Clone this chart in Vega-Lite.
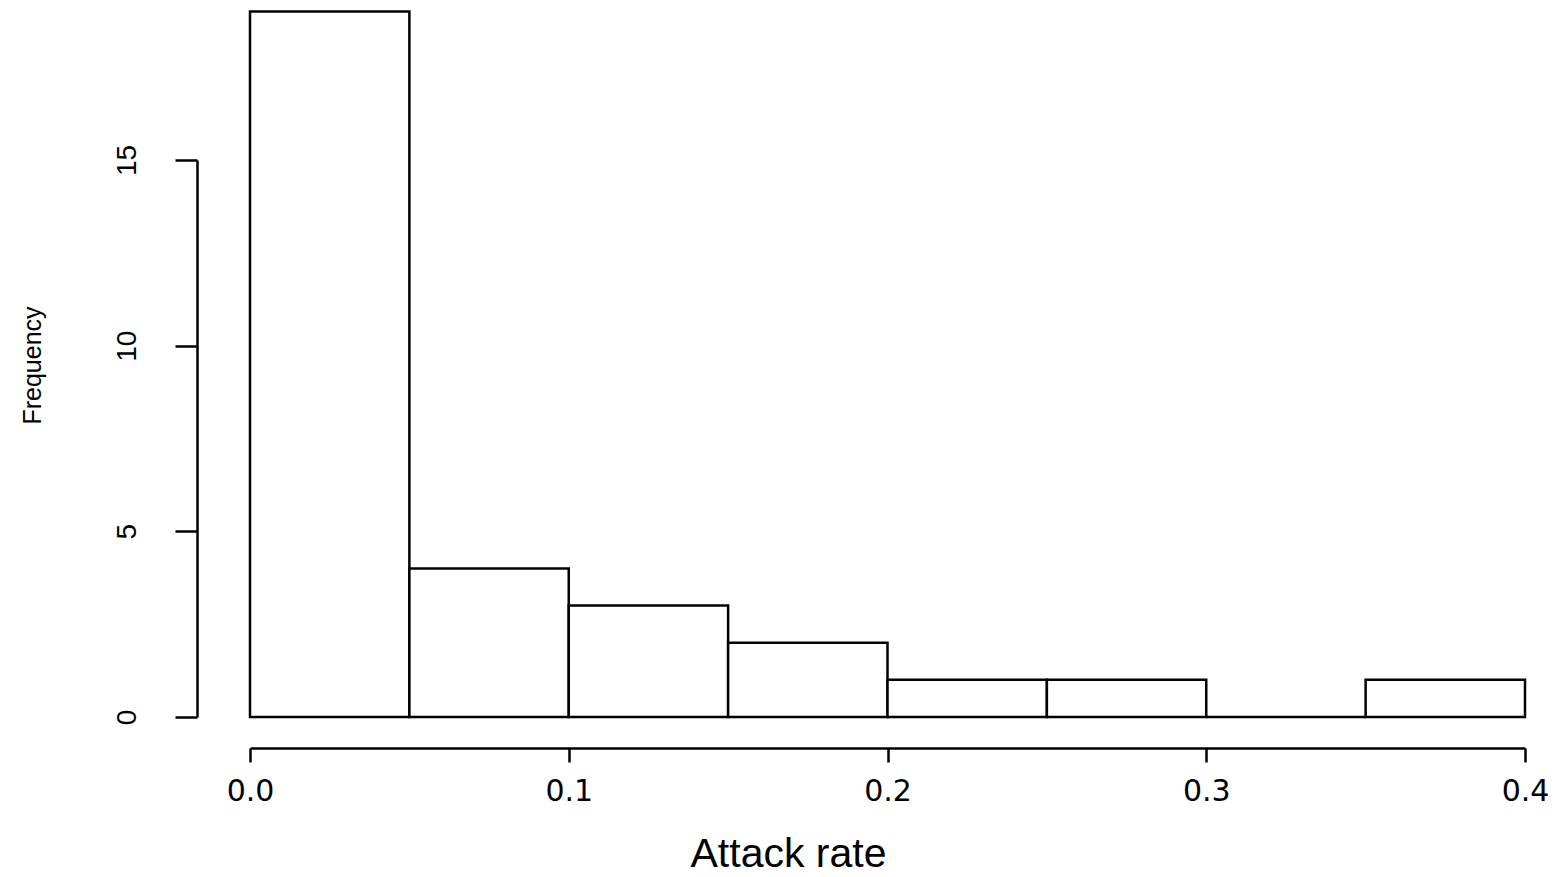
{
  "$schema": "https://vega.github.io/schema/vega-lite/v6.json",
  "autosize": {"type": "none"},
  "padding": {"left": 250, "top": 160, "right": 35, "bottom": 160},
  "width": 1275,
  "height": 557,
  "background": "white",
  "config": {"view": {"stroke": null}},
  "data": {
    "values": [
      {"bin_start": 0.0, "bin_end": 0.05, "count": 19},
      {"bin_start": 0.05, "bin_end": 0.1, "count": 4},
      {"bin_start": 0.1, "bin_end": 0.15, "count": 3},
      {"bin_start": 0.15, "bin_end": 0.2, "count": 2},
      {"bin_start": 0.2, "bin_end": 0.25, "count": 1},
      {"bin_start": 0.25, "bin_end": 0.3, "count": 1},
      {"bin_start": 0.3, "bin_end": 0.35, "count": 0},
      {"bin_start": 0.35, "bin_end": 0.4, "count": 1}
    ]
  },
  "mark": {"type": "bar", "fill": "white", "stroke": "black", "strokeWidth": 2.5, "clip": false},
  "encoding": {
    "x": {
      "field": "bin_start",
      "type": "quantitative",
      "scale": {"domain": [0, 0.4], "nice": false, "zero": false},
      "axis": {
        "values": [0, 0.1, 0.2, 0.3, 0.4],
        "format": ".1f",
        "grid": false,
        "offset": 31,
        "tickSize": 14,
        "tickWidth": 2.5,
        "tickColor": "black",
        "domainColor": "black",
        "domainWidth": 2.5,
        "labelFont": "DejaVu Sans",
        "labelFontSize": 30,
        "labelColor": "black",
        "labelPadding": 14,
        "labelFlush": false,
        "title": "Attack rate",
        "titleFont": "Liberation Sans",
        "titleFontSize": 41,
        "titleFontWeight": "normal",
        "titleColor": "black",
        "titleX": 538,
        "titleY": 106,
        "titleAlign": "center",
        "titleBaseline": "middle"
      }
    },
    "x2": {"field": "bin_end"},
    "y": {
      "field": "count",
      "type": "quantitative",
      "scale": {"domain": [0, 15], "nice": false},
      "axis": {
        "values": [0, 5, 10, 15],
        "grid": false,
        "offset": 53,
        "tickSize": 22,
        "tickWidth": 2.5,
        "tickColor": "black",
        "domainColor": "black",
        "domainWidth": 2.5,
        "labelAngle": -90,
        "labelAlign": "center",
        "labelBaseline": "alphabetic",
        "labelFont": "Liberation Sans",
        "labelFontSize": 28,
        "labelColor": "black",
        "labelPadding": 40,
        "labelFlush": false,
        "title": "Frequency",
        "titleFont": "Liberation Sans",
        "titleFontSize": 25,
        "titleFontWeight": "normal",
        "titleColor": "black",
        "titleX": -165,
        "titleY": 205,
        "titleAngle": -90,
        "titleAlign": "center",
        "titleBaseline": "middle"
      }
    },
    "y2": {"datum": 0}
  }
}
